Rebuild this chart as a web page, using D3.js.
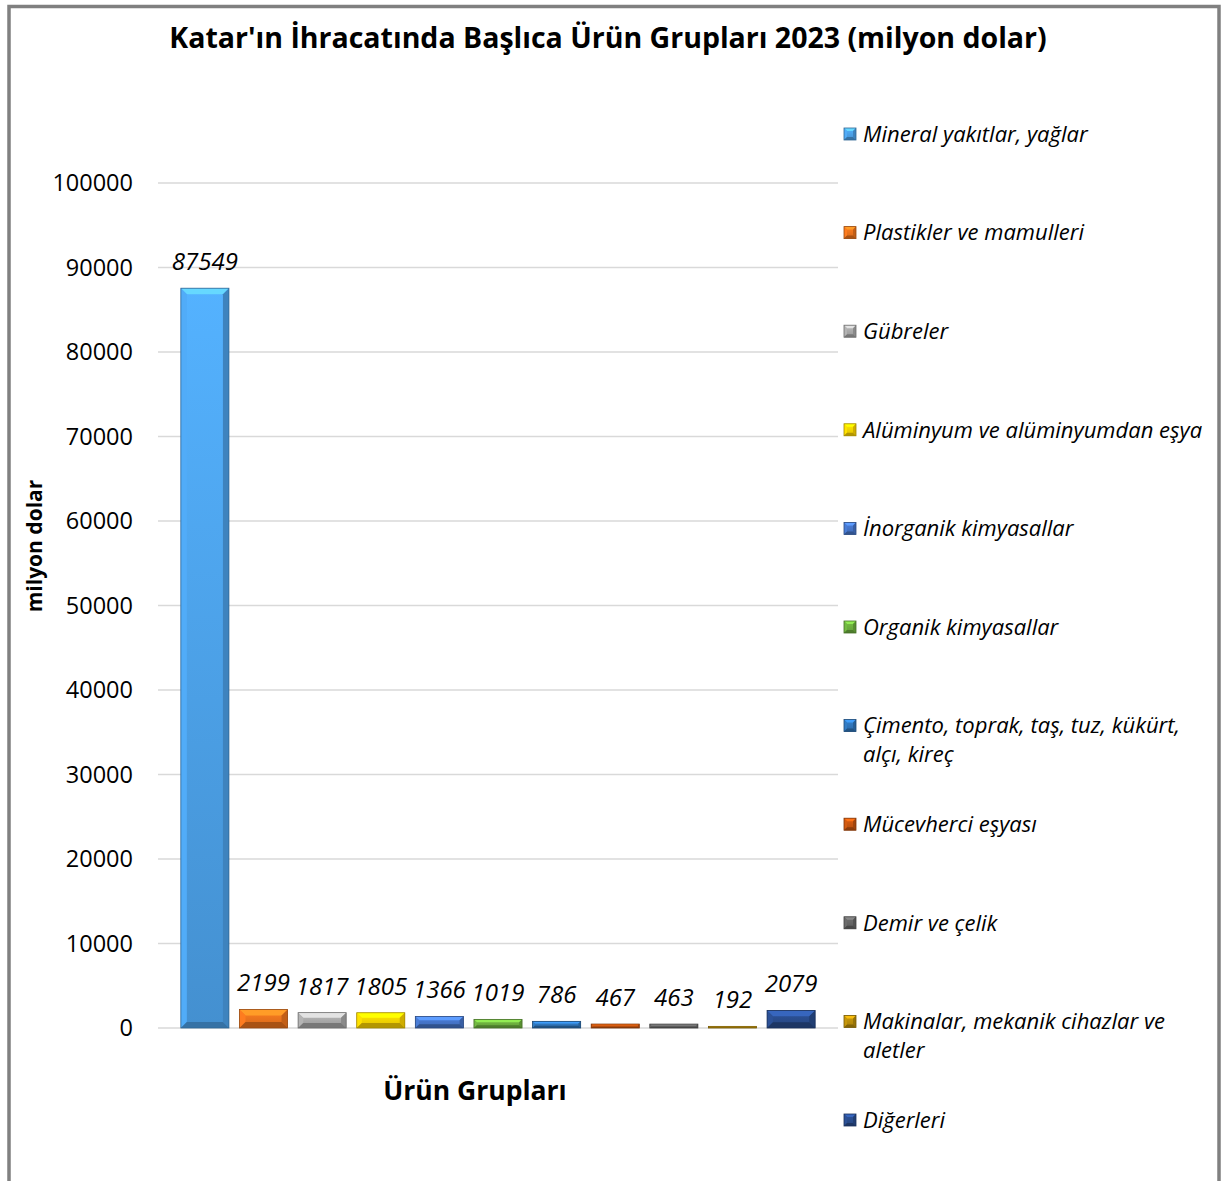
<!DOCTYPE html>
<html>
<head>
<meta charset="utf-8">
<script src="https://cdn.jsdelivr.net/npm/d3@7"></script>
<style>
  body { margin: 0; background: #fff; }
  svg { display: block; font-family: "Open Sans", sans-serif; }
</style>
</head>
<body>
<svg id="chart" width="1227" height="1181"></svg>
<script>
// data
const categories = [
    'Mineral yakıtlar, yağlar',
    'Plastikler ve mamulleri',
    'Gübreler',
    'Alüminyum ve alüminyumdan eşya',
    'İnorganik kimyasallar',
    'Organik kimyasallar',
    'Çimento, toprak, taş, tuz, kükürt, alçı, kireç',
    'Mücevherci eşyası',
    'Demir ve çelik',
    'Makinalar, mekanik cihazlar ve aletler',
    'Diğerleri'
];
const values = [87549, 2199, 1817, 1805, 1366, 1019, 786, 467, 463, 192, 2079];
const barColors = ['#4a9de3', '#e8711c', '#a5a5a5', '#f7cf00', '#4472c4', '#6aab3c',
                   '#2e72b5', '#c2530f', '#636363', '#b58a0a', '#284a8a'];
const yTicks = [0, 10000, 20000, 30000, 40000, 50000, 60000, 70000, 80000, 90000, 100000];

const svg = d3.select('#chart');

// outer frame
svg.append('rect')
    .attr('x', 9).attr('y', 6.5)
    .attr('width', 1210).attr('height', 1220)
    .attr('fill', '#fff')
    .attr('stroke', '#808080')
    .attr('stroke-width', 3.5);

// title
svg.append('text')
    .attr('x', 608).attr('y', 48)
    .attr('text-anchor', 'middle')
    .attr('font-weight', 'bold')
    .attr('font-size', 28.5)
    .text("Katar'ın İhracatında Başlıca Ürün Grupları 2023 (milyon dolar)");

// scales
const x = d3.scaleBand()
    .domain(categories)
    .range([158, 838])
    .paddingInner(0.18)
    .paddingOuter(0.39);

const y = d3.scaleLinear()
    .domain([0, 100000])
    .range([1028, 183]);

// grid
svg.append('g')
    .selectAll('line')
    .data(yTicks)
    .enter()
    .append('line')
    .attr('x1', 158).attr('x2', 838)
    .attr('y1', d => y(d)).attr('y2', d => y(d))
    .attr('stroke', '#d9d9d9')
    .attr('stroke-width', 1.5);

// y axis labels (no axis line, like the original)
const yAxis = svg.append('g')
    .attr('transform', 'translate(133,0)')
    .call(d3.axisLeft(y).tickValues(yTicks).tickSize(0).tickPadding(0).tickFormat(d3.format('d')));
yAxis.select('.domain').remove();
yAxis.selectAll('text')
    .attr('font-family', '"Open Sans", sans-serif')
    .attr('font-size', 23.5)
    .attr('fill', '#000');

// axis titles
svg.append('text')
    .attr('transform', 'translate(42,546) rotate(-90)')
    .attr('text-anchor', 'middle')
    .attr('font-weight', 'bold')
    .attr('font-size', 21)
    .text('milyon dolar');

svg.append('text')
    .attr('x', 475).attr('y', 1100)
    .attr('text-anchor', 'middle')
    .attr('font-weight', 'bold')
    .attr('font-size', 26.5)
    .text('Ürün Grupları');

// gradient per bar colour
const defs = svg.append('defs');
barColors.forEach((c, i) => {
    const g = defs.append('linearGradient')
        .attr('id', 'grad' + i)
        .attr('x1', 0).attr('y1', 0).attr('x2', 0).attr('y2', 1);
    g.append('stop').attr('offset', '0%').attr('stop-color', d3.color(c).brighter(0.35));
    g.append('stop').attr('offset', '100%').attr('stop-color', d3.color(c).darker(0.25));
});

// draw a bevelled box like the Office "bevel" shape effect
function bevelBox(sel, bx, by, w, h, i, size) {
    const col = d3.color(barColors[i]);
    const b = Math.min(size, h / 3, w / 3);
    sel.append('rect')
        .attr('x', bx).attr('y', by).attr('width', w).attr('height', h)
        .attr('fill', `url(#grad${i})`);
    const faces = [
        { pts: [[bx, by], [bx + w, by], [bx + w - b, by + b], [bx + b, by + b]], fill: col.brighter(0.9) },
        { pts: [[bx, by], [bx + b, by + b], [bx + b, by + h - b], [bx, by + h]], fill: col.brighter(0.25) },
        { pts: [[bx + w, by], [bx + w, by + h], [bx + w - b, by + h - b], [bx + w - b, by + b]], fill: col.darker(0.5) },
        { pts: [[bx, by + h], [bx + b, by + h - b], [bx + w - b, by + h - b], [bx + w, by + h]], fill: col.darker(0.9) }
    ];
    faces.forEach(f => {
        sel.append('polygon')
            .attr('points', f.pts.map(p => p.join(',')).join(' '))
            .attr('fill', f.fill);
    });
    sel.append('rect')
        .attr('x', bx).attr('y', by).attr('width', w).attr('height', h)
        .attr('fill', 'none')
        .attr('stroke', col.darker(1.2))
        .attr('stroke-width', 0.8);
}

// bars
const bars = svg.append('g');
values.forEach((v, i) => {
    const g = bars.append('g');
    bevelBox(g, x(categories[i]), y(v), x.bandwidth(), y(0) - y(v), i, 6);
});

// value labels
svg.append('g')
    .selectAll('text')
    .data(values)
    .enter()
    .append('text')
    .attr('x', (d, i) => x(categories[i]) + x.bandwidth() / 2)
    .attr('y', d => y(d) - 18)
    .attr('text-anchor', 'middle')
    .attr('font-style', 'italic')
    .attr('font-size', 24)
    .text(d => d);

// legend
const legendY = d3.scalePoint()
    .domain(categories)
    .range([134, 1120]);

const legend = svg.append('g');
categories.forEach((c, i) => {
    const ly = legendY(c);
    const g = legend.append('g');
    bevelBox(g, 844, ly - 6, 12, 12, i, 3);
    const t = g.append('text')
        .attr('x', 863).attr('y', ly)
        .attr('dy', '0.35em')
        .attr('font-style', 'italic')
        .attr('font-size', 22);
    // wrap long labels
    const words = c.split(' ');
    let line = [];
    let tspan = t.append('tspan').attr('x', 863);
    words.forEach(w => {
        line.push(w);
        tspan.text(line.join(' '));
        if (tspan.node().getComputedTextLength() > 350 && line.length > 1) {
            line.pop();
            tspan.text(line.join(' '));
            line = [w];
            tspan = t.append('tspan').attr('x', 863).attr('dy', '1.3em').text(w);
        }
    });
});
</script>
</body>
</html>
